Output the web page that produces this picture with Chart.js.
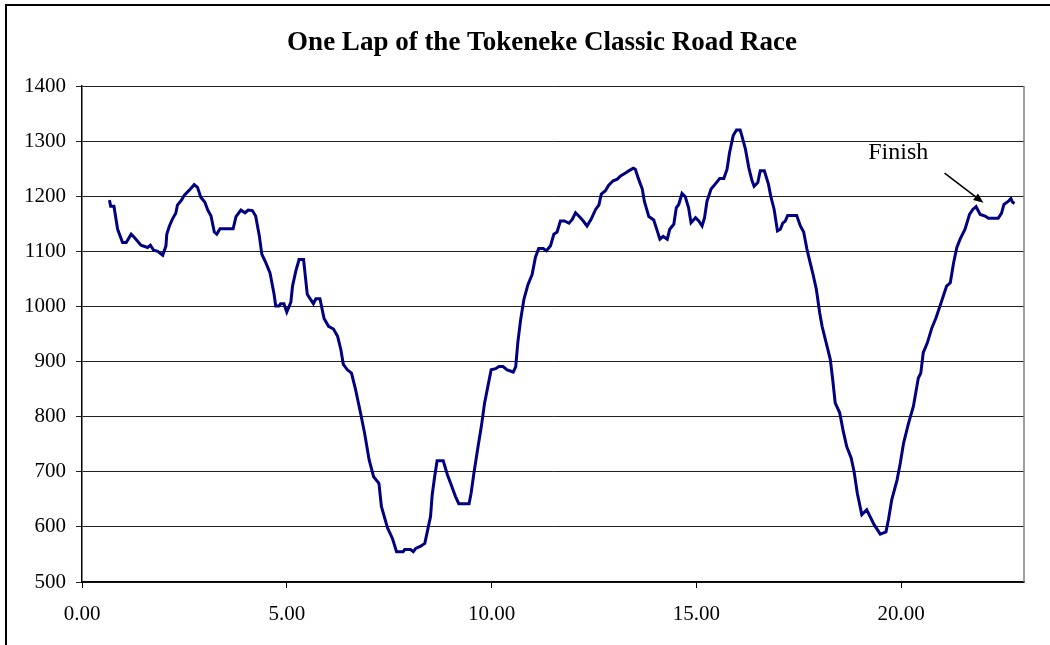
<!DOCTYPE html>
<html><head><meta charset="utf-8">
<script src="https://cdn.jsdelivr.net/npm/chart.js@4.4.1/dist/chart.umd.min.js"></script>
<style>html,body{margin:0;padding:0;background:#fff}#wrap{width:1050px;height:645px;position:relative}</style>
</head><body><div id="wrap"><canvas id="c" width="1050" height="645"></canvas></div>
<script>
const distanceMiles = [0.67,0.70,0.78,0.87,0.99,1.08,1.20,1.28,1.44,1.60,1.67,1.75,1.85,1.97,2.05,2.07,2.13,2.21,2.29,2.33,2.43,2.50,2.62,2.74,2.82,2.90,3.00,3.07,3.15,3.23,3.29,3.37,3.69,3.76,3.88,3.98,4.06,4.16,4.24,4.33,4.39,4.49,4.59,4.69,4.73,4.81,4.85,4.93,5.00,5.10,5.14,5.22,5.30,5.41,5.50,5.56,5.65,5.71,5.81,5.91,6.02,6.14,6.24,6.32,6.38,6.48,6.58,6.68,6.80,6.90,7.01,7.12,7.25,7.31,7.46,7.58,7.68,7.84,7.88,8.02,8.09,8.15,8.27,8.37,8.43,8.51,8.55,8.61,8.67,8.82,8.92,9.00,9.12,9.20,9.45,9.50,9.57,9.67,9.75,9.83,9.91,9.99,10.10,10.18,10.28,10.38,10.53,10.59,10.64,10.71,10.79,10.89,10.99,11.07,11.15,11.26,11.34,11.44,11.52,11.60,11.68,11.78,11.89,11.97,12.05,12.13,12.24,12.33,12.43,12.54,12.62,12.68,12.78,12.86,12.97,13.07,13.15,13.27,13.35,13.46,13.51,13.59,13.68,13.73,13.84,13.96,14.02,14.11,14.19,14.29,14.35,14.45,14.51,14.57,14.65,14.73,14.81,14.87,14.98,15.06,15.14,15.20,15.26,15.36,15.46,15.57,15.67,15.75,15.81,15.90,15.98,16.07,16.11,16.20,16.28,16.36,16.41,16.50,16.56,16.66,16.76,16.82,16.90,16.98,17.05,17.11,17.17,17.23,17.45,17.54,17.62,17.70,17.78,17.85,17.93,18.01,18.07,18.19,18.27,18.33,18.39,18.50,18.58,18.67,18.78,18.85,18.93,19.04,19.16,19.24,19.34,19.49,19.63,19.69,19.77,19.90,19.98,20.06,20.18,20.30,20.42,20.48,20.54,20.64,20.75,20.85,20.95,21.03,21.11,21.20,21.28,21.36,21.44,21.56,21.67,21.75,21.83,21.93,22.05,22.13,22.37,22.45,22.51,22.62,22.68,22.72,22.77];
const elevationFeet = [1193,1182,1182,1140,1116,1116,1131,1125,1111,1107,1111,1102,1100,1093,1110,1131,1145,1159,1169,1184,1193,1202,1211,1221,1216,1198,1189,1175,1164,1135,1131,1141,1141,1163,1175,1170,1175,1174,1164,1128,1095,1079,1061,1022,1001,1001,1005,1005,990,1008,1037,1064,1085,1085,1022,1015,1005,1014,1014,978,964,959,946,922,895,885,879,849,807,770,722,691,679,637,598,579,555,555,559,559,555,561,565,570,591,619,658,691,720,720,695,679,655,642,642,661,698,746,782,825,855,885,887,891,891,885,881,891,934,976,1013,1040,1058,1089,1105,1105,1101,1110,1131,1135,1155,1155,1151,1158,1170,1164,1155,1146,1158,1176,1184,1204,1210,1220,1228,1231,1237,1242,1246,1251,1249,1231,1213,1191,1163,1157,1143,1122,1127,1122,1140,1149,1179,1185,1205,1199,1179,1152,1161,1155,1146,1161,1191,1213,1222,1232,1232,1249,1279,1310,1320,1320,1310,1285,1252,1228,1218,1225,1246,1246,1222,1199,1176,1137,1140,1151,1155,1165,1165,1146,1135,1104,1079,1058,1031,989,964,928,904,867,825,807,776,746,725,701,661,622,631,619,604,587,591,613,649,685,716,752,788,819,870,879,916,934,961,979,1001,1019,1037,1043,1079,1107,1122,1140,1167,1176,1181,1167,1164,1160,1160,1169,1185,1191,1196,1189,1187];
const xTickValues = [0, 5, 10, 15, 20];
const yTickValues = [500, 600, 700, 800, 900, 1000, 1100, 1200, 1300, 1400];
const chartTitle = 'One Lap of the Tokeneke Classic Road Race';
const finishText = 'Finish';
const finishTextAt = [19.93, 1279];
const finishArrowFrom = [21.06, 1242];
const finishArrowTo = [22.01, 1188];

const points = distanceMiles.map((d, i) => ({x: d, y: elevationFeet[i]}));
const SERIF = '"Liberation Serif", "Times New Roman", serif';

const framePlugin = {
  id: 'frame',
  beforeDraw(chart) {
    const ctx = chart.ctx;
    ctx.save();
    ctx.fillStyle = '#fff';
    ctx.fillRect(0, 0, chart.width, chart.height);
    ctx.strokeStyle = '#000';
    ctx.lineWidth = 2;
    ctx.beginPath();
    ctx.moveTo(6, chart.height + 2);
    ctx.lineTo(6, 5);
    ctx.lineTo(chart.width + 2, 5);
    ctx.stroke();
    ctx.fillStyle = '#000';
    ctx.font = 'bold 27px ' + SERIF;
    ctx.textAlign = 'center';
    ctx.textBaseline = 'middle';
    ctx.fillText(chartTitle, 542, 43);
    ctx.restore();
  },
  afterDraw(chart) {
    const ctx = chart.ctx;
    const a = chart.chartArea;
    const xs = chart.scales.x, ys = chart.scales.y;
    ctx.save();
    ctx.strokeStyle = '#808080';
    ctx.lineWidth = 1.5;
    ctx.beginPath();
    ctx.moveTo(a.right, a.top);
    ctx.lineTo(a.right, a.bottom);
    ctx.stroke();
    ctx.fillStyle = '#000';
    ctx.font = '24px ' + SERIF;
    ctx.textAlign = 'center';
    ctx.textBaseline = 'middle';
    ctx.fillText(finishText, xs.getPixelForValue(finishTextAt[0]), ys.getPixelForValue(finishTextAt[1]));
    const x1 = xs.getPixelForValue(finishArrowFrom[0]), y1 = ys.getPixelForValue(finishArrowFrom[1]);
    const x2 = xs.getPixelForValue(finishArrowTo[0]), y2 = ys.getPixelForValue(finishArrowTo[1]);
    const ang = Math.atan2(y2 - y1, x2 - x1);
    ctx.strokeStyle = '#000';
    ctx.lineWidth = 1.5;
    ctx.beginPath();
    ctx.moveTo(x1, y1);
    ctx.lineTo(x2 - 6 * Math.cos(ang), y2 - 6 * Math.sin(ang));
    ctx.stroke();
    ctx.beginPath();
    ctx.moveTo(x2, y2);
    ctx.lineTo(x2 - 10 * Math.cos(ang) + 4 * Math.sin(ang), y2 - 10 * Math.sin(ang) - 4 * Math.cos(ang));
    ctx.lineTo(x2 - 10 * Math.cos(ang) - 4 * Math.sin(ang), y2 - 10 * Math.sin(ang) + 4 * Math.cos(ang));
    ctx.closePath();
    ctx.fill();
    ctx.restore();
  }
};

new Chart(document.getElementById('c'), {
  type: 'line',
  data: {
    datasets: [{
      label: 'Elevation',
      data: points,
      borderColor: '#000080',
      borderWidth: 3,
      pointRadius: 0,
      tension: 0,
      fill: false
    }]
  },
  options: {
    responsive: false,
    animation: false,
    devicePixelRatio: 1,
    layout: {padding: {left: 0, right: 26, top: 86, bottom: 0}},
    plugins: {
      legend: {display: false},
      tooltip: {enabled: false},
      title: {display: false}
    },
    scales: {
      x: {
        type: 'linear',
        min: 0,
        max: 23,
        afterBuildTicks(scale) { scale.ticks = xTickValues.map(v => ({value: v})); },
        afterFit(scale) { scale.height = 63; },
        ticks: {
          color: '#000',
          font: {family: SERIF, size: 21},
          padding: 14,
          maxRotation: 0,
          autoSkip: false,
          includeBounds: false,
          callback: v => Number(v).toFixed(2)
        },
        grid: {display: true, drawOnChartArea: false, drawTicks: true, tickLength: 6, color: '#000', lineWidth: 1},
        border: {display: true, color: '#000', width: 1.5}
      },
      y: {
        min: 500,
        max: 1400,
        afterBuildTicks(scale) { scale.ticks = yTickValues.map(v => ({value: v})); },
        afterFit(scale) { scale.width = 82; },
        ticks: {
          color: '#000',
          font: {family: SERIF, size: 21},
          padding: 10,
          autoSkip: false,
          callback: v => String(v)
        },
        grid: {display: true, drawOnChartArea: true, drawTicks: true, tickLength: 6, color: '#222', lineWidth: 1},
        border: {display: true, color: '#000', width: 1.5}
      }
    }
  },
  plugins: [framePlugin]
});
</script>
</body></html>
